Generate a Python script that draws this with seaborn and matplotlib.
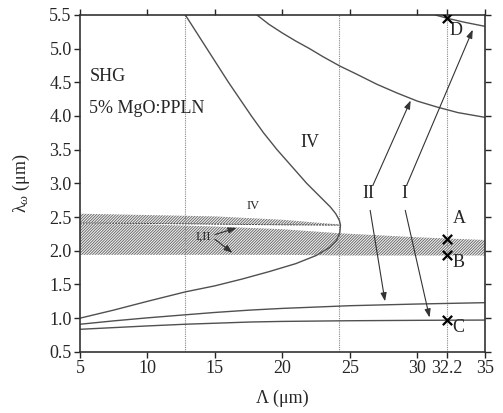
import numpy as np
import pandas as pd
import matplotlib
matplotlib.use("Agg")
import matplotlib.pyplot as plt
import seaborn as sns

# ---- data ----
# curve IV (C-shaped): wavelength (lambda) and grating period (Lambda)
iv_lam = [5.5, 5.25, 5.0, 4.75, 4.5, 4.25, 4.0, 3.75, 3.5, 3.25, 3.0, 2.8, 2.65, 2.55, 2.45, 2.38,
          2.27, 2.15, 2.05, 1.93, 1.81, 1.69, 1.58, 1.48, 1.39, 1.25, 1.12, 1.0]
iv_per = [12.8, 13.6, 14.4, 15.2, 16.0, 16.85, 17.7, 18.6, 19.6, 20.7, 21.8, 22.8, 23.55, 23.95, 24.22, 24.3,
          24.25, 24.0, 23.5, 22.5, 21.0, 19.0, 17.0, 15.0, 12.8, 10.0, 7.5, 5.0]

# upper-right curve (target of arrow II)
c2_per = [18.1, 19.0, 20.0, 21.0, 22.0, 23.0, 24.26, 25.5, 27.0, 28.5, 30.0, 31.5, 33.0, 35.0]
c2_lam = [5.5, 5.36, 5.23, 5.11, 5.0, 4.88, 4.74, 4.62, 4.47, 4.34, 4.22, 4.13, 4.05, 3.98]

# top-right curve through D
c3_per = [31.3, 32.2, 33.5, 35.0]
c3_lam = [5.5, 5.45, 5.39, 5.33]

# lower curves
c4_per = [5.0, 7.5, 10.0, 12.8, 15.0, 17.6, 20.0, 25.0, 30.0, 35.0]
c4_lam = [0.91, 0.96, 1.005, 1.05, 1.085, 1.12, 1.145, 1.185, 1.21, 1.23]
c5_per = [5.0, 7.5, 10.0, 12.8, 15.0, 17.6, 20.0, 25.0, 30.0, 35.0]
c5_lam = [0.835, 0.86, 0.885, 0.91, 0.925, 0.943, 0.952, 0.962, 0.968, 0.972]

# hatched bands
bandIV_per = [5.0, 10.0, 15.0, 20.0, 24.2]
bandIV_top = [2.55, 2.53, 2.51, 2.46, 2.39]
bandIV_bot = [2.41, 2.405, 2.395, 2.385, 2.38]
bandI_per = [5.0, 10.0, 15.0, 20.0, 24.2, 30.0, 35.0]
bandI_top = [2.40, 2.39, 2.36, 2.32, 2.26, 2.20, 2.16]
bandI_bot = [1.94, 1.94, 1.94, 1.94, 1.93, 1.93, 1.93]

# vertical dotted lines
vlines = [12.8, 24.2, 32.2]

# marked points
pt_names = ["A", "B", "C", "D"]
pt_per = [32.2, 32.2, 32.2, 32.2]
pt_lam = [2.17, 1.93, 0.98, 5.45]

xticks = [5, 10, 15, 20, 25, 30, 32.2, 35]
xticklabels = ["5", "10", "15", "20", "25", "30", "32.2", "35"]
yticks = [0.5, 1.0, 1.5, 2.0, 2.5, 3.0, 3.5, 4.0, 4.5, 5.0, 5.5]

# ---- style ----
sns.set_style("ticks")
plt.rcParams["font.family"] = ["Liberation Serif", "DejaVu Serif"]
plt.rcParams["mathtext.fontset"] = "custom"
plt.rcParams["mathtext.rm"] = "Liberation Serif"
plt.rcParams["mathtext.it"] = "Liberation Serif:italic"
plt.rcParams["hatch.linewidth"] = 0.6
plt.rcParams["hatch.color"] = "#606060"

fig = plt.figure(figsize=(5.03, 4.13), dpi=100)
ax = fig.add_axes([0.159, 0.148, 0.805, 0.816])

lc = "#505050"
lw = 1.0

# bands
ax.fill_between(bandI_per, bandI_bot, bandI_top, facecolor="#f0f0f0", edgecolor="#606060",
                hatch="/" * 12, linewidth=0)
ax.fill_between(bandIV_per, bandIV_bot, bandIV_top, facecolor="#f0f0f0", edgecolor="#606060",
                hatch="/" * 12, linewidth=0)
ax.plot(bandIV_per, bandIV_bot, color="#444444", linewidth=0.7, linestyle=(0, (2, 1)))

# dotted vertical lines
for v in vlines:
    ax.axvline(v, color="#888888", linestyle=(0, (1, 1)), linewidth=0.8, zorder=1)

# curves
for px, py in [(iv_per, iv_lam), (c2_per, c2_lam), (c3_per, c3_lam), (c4_per, c4_lam), (c5_per, c5_lam)]:
    sns.lineplot(x=px, y=py, sort=False, estimator=None, color=lc, linewidth=lw, ax=ax)

# crosses
sns.scatterplot(x=pt_per, y=pt_lam, marker="x", color="black", s=45, linewidth=1.6, ax=ax, zorder=5)

# labels of points
fs = 13
ax.text(32.6, 2.41, "A", fontsize=fs)
ax.text(32.6, 1.83, "B", fontsize=fs, va="center")
ax.text(32.6, 0.86, "C", fontsize=fs, va="center")
ax.text(32.4, 5.27, "D", fontsize=fs, va="center")

# region labels
ax.text(5.7, 4.59, "SHG", fontsize=fs, va="center")
ax.text(5.7, 4.11, "5% MgO:PPLN", fontsize=fs, va="center")
ax.text(22.0, 3.61, "IV", fontsize=fs, ha="center", va="center")
ax.text(17.8, 2.67, "IV", fontsize=9, ha="center", va="center")
ax.text(14.1, 2.21, "I,II", fontsize=9, ha="center", va="center")
ax.text(26.4, 2.85, "II", fontsize=fs, ha="center", va="center")
ax.text(29.0, 2.85, "I", fontsize=fs, ha="center", va="center")

ap = dict(arrowstyle="-|>,head_length=0.5,head_width=0.18", color="#333333", lw=0.8, shrinkA=0, shrinkB=0)
ax.annotate("", xy=(29.5, 4.23), xytext=(26.7, 2.97), arrowprops=ap)
ax.annotate("", xy=(27.6, 1.25), xytext=(26.5, 2.6), arrowprops=ap)
ax.annotate("", xy=(34.1, 5.28), xytext=(29.2, 2.97), arrowprops=ap)
ax.annotate("", xy=(30.9, 1.01), xytext=(29.1, 2.6), arrowprops=ap)
ax.annotate("", xy=(16.6, 2.34), xytext=(15.0, 2.24), arrowprops=ap)
ax.annotate("", xy=(16.3, 1.97), xytext=(15.0, 2.17), arrowprops=ap)

ax.set_xlim(5, 35)
ax.set_ylim(0.5, 5.5)
ax.set_xticks(xticks)
ax.set_xticklabels(xticklabels)
ax.set_yticks(yticks)
ax.set_yticklabels([f"{v:.1f}" for v in yticks])
ax.tick_params(axis="both", which="major", direction="out", length=4, width=1.0,
               labelsize=13, top=True, right=True, labeltop=False, labelright=False, pad=2)
for s in ax.spines.values():
    s.set_visible(True)
    s.set_linewidth(1.2)
    s.set_color("#333333")

ax.set_xlabel("Λ (μm)", fontsize=13, labelpad=9)
ax.set_ylabel(r"λ$_\omega$ (μm)", fontsize=13, labelpad=12)

fig.savefig("out.png", dpi=100)
